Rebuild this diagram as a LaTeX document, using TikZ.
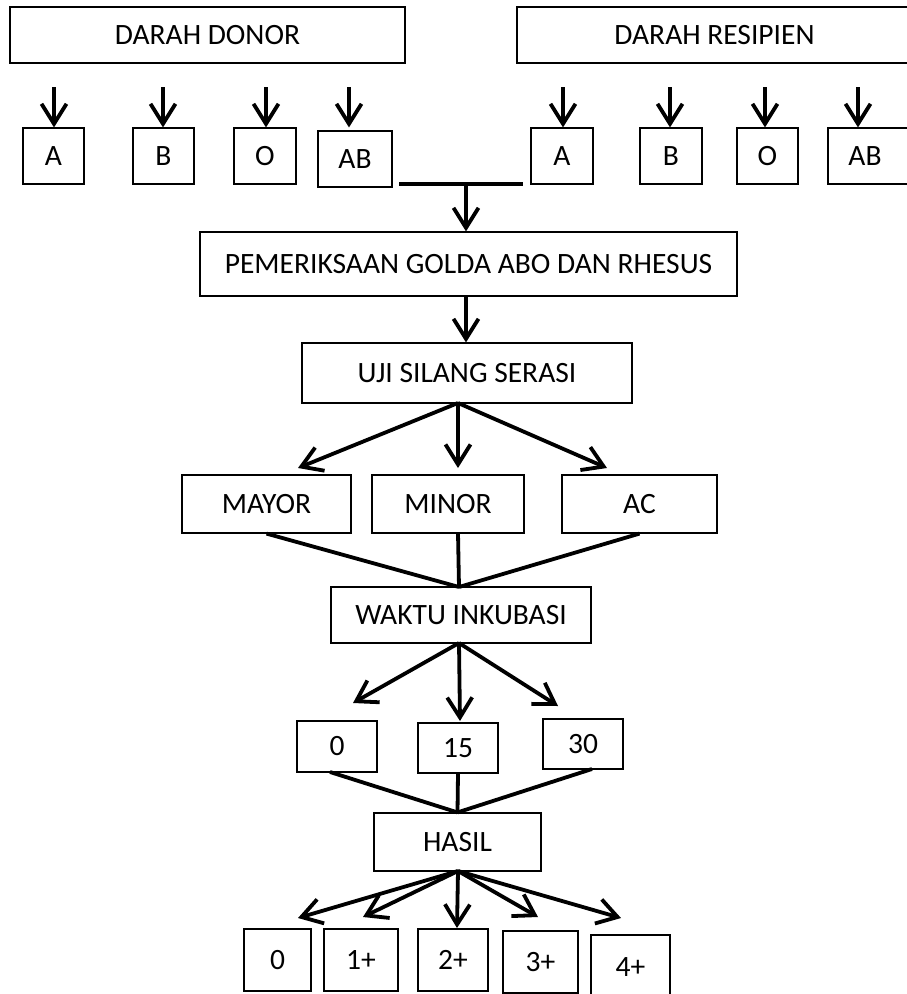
\documentclass[tikz,border=0pt]{standalone}
\usepackage{fontspec}
\setmainfont{Carlito}
\usetikzlibrary{arrows.meta}
\tikzset{
  bx/.style={draw, line width=1.2pt, inner sep=0pt, font=\fontsize{29.5}{31}\selectfont},
  arr/.style={line width=3.8pt, -{Straight Barb[length=20pt,width=25pt]}},
  ln/.style={line width=3.8pt},
}
\begin{document}
\begin{tikzpicture}[x=1pt,y=-1pt]
\useasboundingbox (0,0) rectangle (907,994);
\clip (0,0) rectangle (907,994);
% top boxes
\node[bx,minimum width=395pt,minimum height=56pt] (donor) at (207.5,35) {DARAH DONOR};
\node[bx,minimum width=395pt,minimum height=56pt] (resip) at (714.5,35) {DARAH RESIPIEN};
% donor groups
\node[bx,minimum width=61pt,minimum height=56pt] (dA) at (53.5,156) {A};
\node[bx,minimum width=61pt,minimum height=56pt] (dB) at (163.5,156) {B};
\node[bx,minimum width=62pt,minimum height=56pt] (dO) at (265,156) {O};
\node[bx,minimum width=74pt,minimum height=56pt] (dAB) at (355,159) {AB};
% recipient groups
\node[bx,minimum width=62pt,minimum height=56pt] (rA) at (562,156) {A};
\node[bx,minimum width=62pt,minimum height=56pt] (rB) at (671,156) {B};
\node[bx,minimum width=61pt,minimum height=56pt] (rO) at (767.5,156) {O};
\node[bx,minimum width=82pt,minimum height=56pt] (rAB) at (869,156) {\hspace*{-8pt}AB};
% arrow starts
\coordinate (s1) at (54,87);
\coordinate (s2) at (163,87);
\coordinate (s3) at (266,87);
\coordinate (s4) at (349,87);
\coordinate (s5) at (563,87);
\coordinate (s6) at (670,87);
\coordinate (s7) at (765,87);
\coordinate (s8) at (858,87);
\draw[arr] (s1) -- (s1 |- dA.north);
\draw[arr] (s2) -- (s2 |- dB.north);
\draw[arr] (s3) -- (s3 |- dO.north);
\draw[arr] (s4) -- (s4 |- rA.north);
\draw[arr] (s5) -- (s5 |- rA.north);
\draw[arr] (s6) -- (s6 |- rB.north);
\draw[arr] (s7) -- (s7 |- rO.north);
\draw[arr] (s8) -- (s8 |- rAB.north);
% joining bar
\coordinate (barL) at (399,184);
\coordinate (barR) at (523,184);
\coordinate (barM) at (466,184);
\draw[line width=4pt] (barL) -- (barR);
% main chain
\node[bx,minimum width=537pt,minimum height=64pt] (pem) at (468.5,264) {PEMERIKSAAN GOLDA ABO DAN RHESUS};
\node[bx,minimum width=330pt,minimum height=60pt] (uji) at (467,373) {UJI SILANG SERASI};
\draw[arr] (barM) -- (barM |- pem.north);
\draw[arr] (barM |- pem.south) -- (barM |- uji.north);
% crossmatch types
\node[bx,minimum width=169pt,minimum height=58pt] (mayor) at (266.5,504) {MAYOR};
\node[bx,minimum width=152pt,minimum height=58pt] (minor) at (448,504) {MINOR};
\node[bx,minimum width=155pt,minimum height=58pt] (ac) at (639.5,504) {AC};
\coordinate (ujiapex) at (458,403);
\coordinate (tMayor) at (298,468);
\coordinate (tMinor) at (458,468);
\coordinate (tAc) at (607,468);
\draw[arr] (ujiapex) -- (tMayor);
\draw[arr] (ujiapex) -- (tMinor);
\draw[arr] (ujiapex) -- (tAc);
% incubation
\node[bx,minimum width=260pt,minimum height=56pt] (waktu) at (461,615) {WAKTU INKUBASI};
\coordinate (wapex) at (459,587);
\coordinate (minorS) at (458,533);
\draw[ln] (mayor.south) -- (wapex);
\draw[ln] (minorS) -- (wapex);
\draw[ln] (ac.south) -- (wapex);
\node[bx,minimum width=80pt,minimum height=51pt] (t0) at (337,746.5) {0};
\node[bx,minimum width=80pt,minimum height=50pt] (t15) at (458,748) {\raisebox{-4pt}{15}};
\node[bx,minimum width=80pt,minimum height=50pt] (t30) at (583,744) {30};
\coordinate (wbot) at (459,643);
\coordinate (tt0) at (353,703);
\coordinate (tt15) at (460,721);
\coordinate (tt30) at (558,706);
\draw[arr] (wbot) -- (tt0);
\draw[arr] (wbot) -- (tt15);
\draw[arr] (wbot) -- (tt30);
% result
\node[bx,minimum width=167pt,minimum height=58pt] (hasil) at (457.5,842) {HASIL};
\coordinate (t0S) at (330,772);
\coordinate (t30S) at (592,769);
\draw[ln] (t0S) -- (hasil.north);
\draw[ln] (t15.south) -- (hasil.north);
\draw[ln] (t30S) -- (hasil.north);
\node[bx,minimum width=67pt,minimum height=62pt] (h0) at (277.5,960) {0};
\node[bx,minimum width=74pt,minimum height=62pt] (h1) at (361,960) {1+};
\node[bx,minimum width=70pt,minimum height=62pt] (h2) at (453,960) {2+};
\node[bx,minimum width=75pt,minimum height=62pt] (h3) at (540.5,962) {3+};
\node[bx,minimum width=79pt,minimum height=65pt] (h4) at (630.5,967.5) {4+};
\coordinate (hbot) at (458,871);
\coordinate (th0) at (298,918);
\coordinate (th1) at (363,917);
\coordinate (th2) at (457,928);
\coordinate (th3) at (538,917);
\coordinate (th4) at (621,918);
\draw[arr] (hbot) -- (th0);
\draw[arr] (hbot) -- (th1);
\draw[arr] (hbot) -- (th2);
\draw[arr] (hbot) -- (th3);
\draw[arr] (hbot) -- (th4);
\end{tikzpicture}
\end{document}
